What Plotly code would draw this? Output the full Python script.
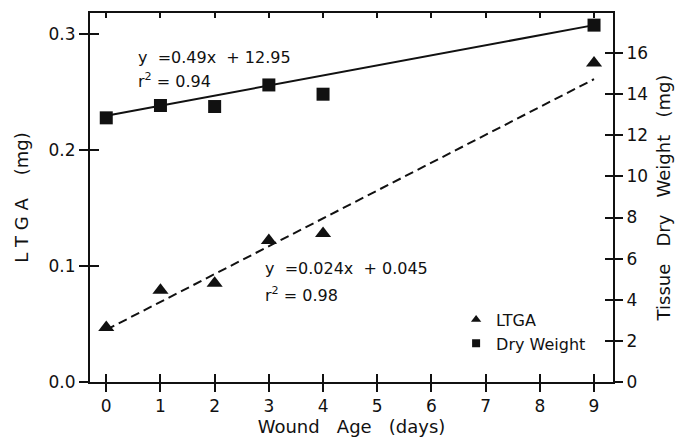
import plotly.graph_objects as go

# Data
days = [0, 1, 2, 3, 4, 9]
ltga_mg = [0.047, 0.079, 0.085, 0.122, 0.128, 0.275]
dry_weight_mg = [12.85, 13.45, 13.4, 14.45, 14.0, 17.36]

fit_days = [0, 9]
ltga_fit = [0.045, 0.261]
dry_fit = [12.95, 17.36]

x_ticks = [0, 1, 2, 3, 4, 5, 6, 7, 8, 9]
x_ticktext = ["0", "1", "2", "3", "4", "5", "6", "7", "8", "9"]
left_ticks = [0.0, 0.1, 0.2, 0.3]
left_ticktext = ["0.0", "0.1", "0.2", "0.3"]
right_ticks = [0, 2, 4, 6, 8, 10, 12, 14, 16]

XR = [-0.3, 9.35]
YL = [0, 0.318]
YR = [0, 17.95]
FONT = "DejaVu Sans"
INK = "#111111"

fig = go.Figure()

# Fit lines
fig.add_trace(go.Scatter(x=fit_days, y=dry_fit, mode="lines", xaxis="x", yaxis="y2",
                         line=dict(color=INK, width=2), showlegend=False, hoverinfo="skip"))
fig.add_trace(go.Scatter(x=fit_days, y=ltga_fit, mode="lines", xaxis="x", yaxis="y",
                         line=dict(color=INK, width=2, dash="9px,5px"), showlegend=False, hoverinfo="skip"))

# Data markers
fig.add_trace(go.Scatter(x=days, y=ltga_mg, mode="markers", xaxis="x", yaxis="y",
                         marker=dict(symbol="triangle-up", size=14, color=INK),
                         showlegend=False))
fig.add_trace(go.Scatter(x=days, y=dry_weight_mg, mode="markers", xaxis="x", yaxis="y2",
                         marker=dict(symbol="square", size=13, color=INK),
                         showlegend=False))

# Legend entries
fig.add_trace(go.Scatter(x=[None], y=[None], mode="markers", xaxis="x", yaxis="y",
                         marker=dict(symbol="triangle-up", size=9, color=INK), name="LTGA"))
fig.add_trace(go.Scatter(x=[None], y=[None], mode="markers", xaxis="x", yaxis="y",
                         marker=dict(symbol="square", size=8, color=INK), name="Dry Weight"))

# Helper traces for inside-tick axes
fig.add_trace(go.Scatter(x=[None], y=[None], xaxis="x2", yaxis="y3", showlegend=False, hoverinfo="skip"))
fig.add_trace(go.Scatter(x=[None], y=[None], xaxis="x3", yaxis="y4", showlegend=False, hoverinfo="skip"))

tickfont = dict(family=FONT, size=17, color=INK)
titlefont = dict(family=FONT, size=18, color=INK)

fig.update_layout(
    width=676, height=441,
    margin=dict(l=90, r=63, t=13, b=59, autoexpand=False),
    paper_bgcolor="white", plot_bgcolor="white",
    font=dict(family=FONT, color=INK),
    xaxis=dict(range=XR, tickvals=x_ticks, ticktext=x_ticktext, ticks="outside", ticklen=8,
               tickwidth=2, tickcolor=INK, showline=True, linewidth=2, linecolor=INK,
               showgrid=False, zeroline=False, tickfont=tickfont, anchor="y", automargin=False,
               title=dict(text="Wound   Age   (days)", font=titlefont, standoff=0)),
    xaxis2=dict(range=XR, overlaying="x", side="bottom", anchor="y", tickvals=x_ticks,
                ticks="inside", ticklen=8, tickwidth=2, tickcolor=INK, showticklabels=False,
                showline=False, showgrid=False, zeroline=False, automargin=False),
    xaxis3=dict(range=XR, overlaying="x", side="top", anchor="y", tickvals=x_ticks,
                ticks="inside", ticklen=5, tickwidth=2, tickcolor=INK, showticklabels=False,
                showline=True, linewidth=2, linecolor=INK, showgrid=False, zeroline=False,
                automargin=False),
    yaxis=dict(range=YL, tickvals=left_ticks, ticktext=left_ticktext, ticks="outside", ticklen=9,
               tickwidth=2, tickcolor=INK, showline=True, linewidth=2, linecolor=INK,
               showgrid=False, zeroline=False, tickfont=tickfont, anchor="x", automargin=False,
               title=dict(text="L T G A    (mg)", font=titlefont, standoff=15)),
    yaxis2=dict(range=YR, overlaying="y", side="right", anchor="x", tickvals=right_ticks,
                ticks="outside", ticklen=8, tickwidth=2, tickcolor=INK, showline=True,
                linewidth=2, linecolor=INK, showgrid=False, zeroline=False, tickfont=tickfont,
                automargin=False,
                title=dict(text="Tissue   Dry   Weight   (mg)", font=titlefont, standoff=10)),
    yaxis3=dict(range=YL, overlaying="y", side="left", anchor="x2", tickvals=left_ticks,
                ticks="inside", ticklen=9, tickwidth=2, tickcolor=INK, showticklabels=False,
                showline=False, showgrid=False, zeroline=False, automargin=False),
    yaxis4=dict(range=YR, overlaying="y", side="right", anchor="x3", tickvals=right_ticks,
                ticks="inside", ticklen=8, tickwidth=2, tickcolor=INK, showticklabels=False,
                showline=False, showgrid=False, zeroline=False, automargin=False),
    legend=dict(x=0.70, y=0.215, xanchor="left", yanchor="top", bgcolor="rgba(0,0,0,0)",
                font=dict(family=FONT, size=16, color=INK), tracegroupgap=0, itemwidth=30),
    showlegend=True,
)

ann_font = dict(family=FONT, size=16, color=INK)
fig.add_annotation(x=0.55, y=0.280, xref="x", yref="y", text="y  =0.49x  + 12.95",
                   showarrow=False, xanchor="left", yanchor="middle", font=ann_font)
fig.add_annotation(x=0.55, y=0.260, xref="x", yref="y", text="r<sup>2</sup> = 0.94",
                   showarrow=False, xanchor="left", yanchor="middle", font=ann_font)
fig.add_annotation(x=2.9, y=0.098, xref="x", yref="y", text="y  =0.024x  + 0.045",
                   showarrow=False, xanchor="left", yanchor="middle", font=ann_font)
fig.add_annotation(x=2.9, y=0.075, xref="x", yref="y", text="r<sup>2</sup> = 0.98",
                   showarrow=False, xanchor="left", yanchor="middle", font=ann_font)

fig.write_html("out.html")
